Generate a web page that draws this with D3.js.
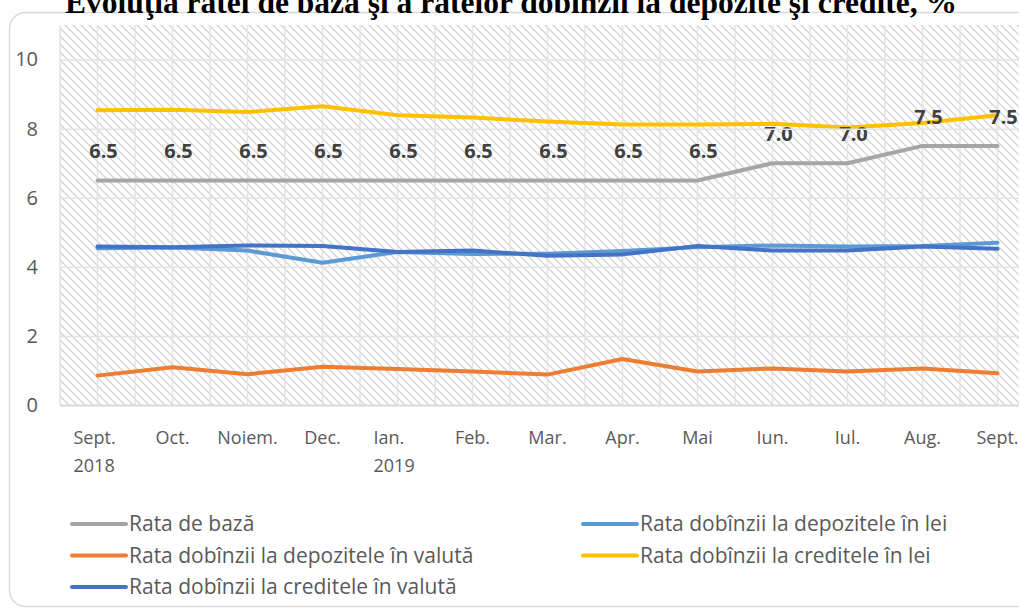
<!DOCTYPE html>
<html>
<head>
<meta charset="utf-8">
<script src="https://cdn.jsdelivr.net/npm/d3@7"></script>
<style>
	body { margin: 0; background: #fff; }
	svg { display: block; }
</style>
</head>
<body>
<div id="chart"></div>
<script>
// months on the x axis (second line is the year, where shown)
var months = ["Sept.", "Oct.", "Noiem.", "Dec.", "Ian.", "Feb.", "Mar.", "Apr.", "Mai", "Iun.", "Iul.", "Aug.", "Sept."];
var years = ["2018", "", "", "", "2019", "", "", "", "", "", "", "", ""];

// series values, %
var rataBaza = [6.5, 6.5, 6.5, 6.5, 6.5, 6.5, 6.5, 6.5, 6.5, 7.0, 7.0, 7.5, 7.5];
var depoziteLei = [4.54, 4.56, 4.47, 4.12, 4.43, 4.37, 4.38, 4.46, 4.57, 4.62, 4.59, 4.60, 4.70];
var depoziteValuta = [0.85, 1.09, 0.89, 1.11, 1.04, 0.97, 0.88, 1.33, 0.97, 1.06, 0.97, 1.06, 0.92];
var crediteLei = [8.53, 8.55, 8.48, 8.65, 8.39, 8.32, 8.21, 8.12, 8.12, 8.14, 8.03, 8.16, 8.39];
var crediteValuta = [4.59, 4.57, 4.62, 4.60, 4.43, 4.47, 4.32, 4.36, 4.60, 4.47, 4.47, 4.59, 4.52];

var yTicks = [0, 2, 4, 6, 8, 10];

var series = [
	{ name: "Rata de bază", values: rataBaza, color: "#A5A5A5" },
	{ name: "Rata dobînzii la depozitele în lei", values: depoziteLei, color: "#5B9BD5" },
	{ name: "Rata dobînzii la depozitele în valută", values: depoziteValuta, color: "#ED7D31" },
	{ name: "Rata dobînzii la creditele în lei", values: crediteLei, color: "#FFC000" },
	{ name: "Rata dobînzii la creditele în valută", values: crediteValuta, color: "#4472C4" }
];

var width = 1019,
	height = 610;
var font = "'Open Sans', sans-serif";

var svg = d3.select("#chart")
	.append("svg")
	.attr("width", width)
	.attr("height", height);

// diagonal hatch used as plot background
var defs = svg.append("defs");
var pat = defs.append("pattern")
	.attr("id", "hatch")
	.attr("patternUnits", "userSpaceOnUse")
	.attr("width", 8)
	.attr("height", 8);
pat.append("path")
	.attr("d", "M-2,-2 L10,10 M-2,6 L2,10 M6,-2 L10,2")
	.attr("stroke", "#d6d6d6")
	.attr("stroke-width", 1.5);

// chart frame (right part cut off in the original)
svg.append("rect")
	.attr("x", 9.5)
	.attr("y", 12.5)
	.attr("width", 1060)
	.attr("height", 594)
	.attr("rx", 16)
	.attr("fill", "none")
	.attr("stroke", "#d9d9d9")
	.attr("stroke-width", 1.5);

var plotLeft = 60,
	plotTop = 25,
	plotBottom = 405;

var x = d3.scaleBand()
	.domain(d3.range(months.length))
	.range([plotLeft, plotLeft + 75 * months.length]);

var y = d3.scaleLinear()
	.domain([0, 11])
	.range([plotBottom, plotTop]);

var plot = svg.append("g");

plot.append("rect")
	.attr("x", plotLeft)
	.attr("y", plotTop)
	.attr("width", width - plotLeft)
	.attr("height", plotBottom - plotTop)
	.attr("fill", "url(#hatch)");

// vertical gridlines: at each category edge and center
var vLines = [];
months.forEach(function (m, i) {
	vLines.push(x(i));
	vLines.push(x(i) + x.bandwidth() / 2);
});
plot.selectAll("line.vg")
	.data(vLines)
	.enter()
	.append("line")
	.attr("class", "vg")
	.attr("x1", function (d) { return d; })
	.attr("x2", function (d) { return d; })
	.attr("y1", plotTop)
	.attr("y2", plotBottom)
	.attr("stroke", "#e3e3e3")
	.attr("stroke-width", 1.5);

// y axis: gridlines + labels
var yAxis = d3.axisLeft(y)
	.tickValues(yTicks)
	.tickSize(-(width - plotLeft))
	.tickPadding(22)
	.tickFormat(d3.format("d"));

var ya = svg.append("g")
	.attr("transform", "translate(" + plotLeft + ",0)")
	.call(yAxis);
ya.select(".domain").remove();
ya.selectAll(".tick line")
	.attr("stroke", function (d) { return d === 0 ? "#d9d9d9" : "#e3e3e3"; })
	.attr("stroke-width", function (d) { return d === 0 ? 2 : 1.5; });
ya.selectAll(".tick text")
	.attr("font-family", font)
	.attr("font-size", 20)
	.attr("fill", "#595959");

// x axis labels
var xAxis = d3.axisBottom(x)
	.tickSize(0)
	.tickPadding(0)
	.tickFormat(function (i) { return months[i]; });

var xa = svg.append("g")
	.attr("transform", "translate(0," + plotBottom + ")")
	.call(xAxis);
xa.select(".domain").remove();
xa.selectAll(".tick text")
	.attr("font-family", font)
	.attr("font-size", 18)
	.attr("fill", "#595959")
	.attr("dy", null)
	.attr("y", 39);
// Sept. 2018 / Ian. 2019: year on a second line, left-aligned with the month
xa.selectAll(".tick").each(function (i) {
	if (years[i]) {
		var g = d3.select(this);
		g.select("text").attr("text-anchor", "start").attr("x", -24);
		g.append("text")
			.attr("x", -24)
			.attr("y", 67)
			.attr("font-family", font)
			.attr("font-size", 18)
			.attr("fill", "#595959")
			.attr("text-anchor", "start")
			.text(years[i]);
	}
});

var cx = function (i) { return x(i) + x.bandwidth() / 2; };

var line = d3.line()
	.x(function (d, i) { return cx(i); })
	.y(function (d) { return y(d); });

plot.selectAll("path.series")
	.data(series)
	.enter()
	.append("path")
	.attr("class", "series")
	.attr("d", function (s) { return line(s.values); })
	.attr("fill", "none")
	.attr("stroke", function (s) { return s.color; })
	.attr("stroke-width", 4)
	.attr("stroke-linecap", "round")
	.attr("stroke-linejoin", "round");

// data labels on the base rate
var base = series[0];
plot.selectAll("text.lbl")
	.data(base.values)
	.enter()
	.append("text")
	.attr("class", "lbl")
	.attr("x", function (d, i) { return cx(i) + 6; })
	.attr("y", function (d) { return y(d) - 22; })
	.attr("text-anchor", "middle")
	.attr("font-family", font)
	.attr("font-size", 20)
	.attr("font-weight", "bold")
	.attr("fill", "#404040")
	.text(function (d) { return d.toFixed(1); });

// title (top cut off in the original)
svg.append("text")
	.attr("x", 511)
	.attr("y", 13)
	.attr("text-anchor", "middle")
	.attr("font-family", "'Liberation Serif', 'Times New Roman', serif")
	.attr("font-size", 31.5)
	.attr("font-weight", "bold")
	.attr("fill", "#000")
	.text("Evoluţia ratei de bază şi a ratelor dobînzii la depozite şi credite, %");

// legend, two columns
var legend = svg.append("g");
var item = legend.selectAll("g")
	.data(series)
	.enter()
	.append("g")
	.attr("transform", function (d, i) {
		var col = i % 2, row = Math.floor(i / 2);
		return "translate(" + (72 + col * 511) + "," + (524 + row * 31.5) + ")";
	});
item.append("line")
	.attr("x1", 0)
	.attr("x2", 54)
	.attr("stroke", function (d) { return d.color; })
	.attr("stroke-width", 4)
	.attr("stroke-linecap", "round");
item.append("text")
	.attr("x", 57)
	.attr("dy", "0.35em")
	.attr("font-family", font)
	.attr("font-size", 21)
	.attr("fill", "#595959")
	.text(function (d) { return d.name; });
</script>
</body>
</html>
